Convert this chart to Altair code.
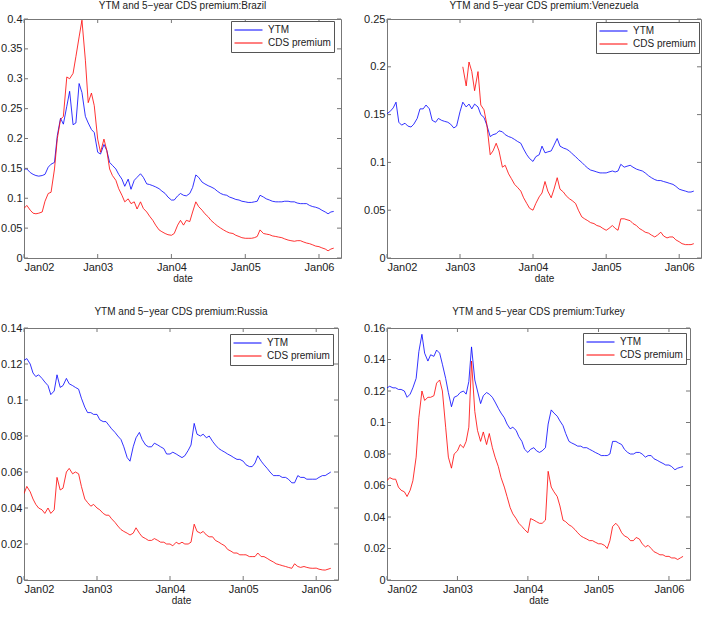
import altair as alt
import pandas as pd

FONT = "Liberation Sans"
TXT = "#222222"
AXC = "#777777"

# semi-monthly observation dates (1st and 15th), Jan 2002 .. Mar 2006
DATES = pd.date_range("2002-01-01", periods=102, freq="SMS").strftime("%Y-%m-%d").tolist()
SERIES = ["YTM", "CDS premium"]
COLORS = ["#0000ff", "#ff0000"]
X_TICK_YEARS = [2002, 2003, 2004, 2005, 2006]

BRA_TICKS = [0, 0.05, 0.1, 0.15, 0.2, 0.25, 0.3, 0.35, 0.4]
VEN_TICKS = [0, 0.05, 0.1, 0.15, 0.2, 0.25]
RUS_TICKS = [0, 0.02, 0.04, 0.06, 0.08, 0.1, 0.12, 0.14]
TUR_TICKS = [0, 0.02, 0.04, 0.06, 0.08, 0.1, 0.12, 0.14, 0.16]

BRA_YTM = [
    0.149, 0.149, 0.143, 0.140, 0.138, 0.137, 0.138, 0.140, 0.152, 0.157, 0.160, 0.205,
    0.234, 0.224, 0.254, 0.279, 0.223, 0.226, 0.292, 0.277, 0.237, 0.226, 0.215, 0.210,
    0.177, 0.174, 0.190, 0.180, 0.160, 0.155, 0.149, 0.140, 0.132, 0.120, 0.132, 0.115,
    0.130, 0.135, 0.141, 0.135, 0.124, 0.123, 0.121, 0.119, 0.116, 0.112, 0.108, 0.102,
    0.097, 0.097, 0.104, 0.108, 0.105, 0.104, 0.108, 0.118, 0.139, 0.135, 0.127, 0.124,
    0.121, 0.119, 0.116, 0.112, 0.108, 0.106, 0.105, 0.102, 0.100, 0.098, 0.097, 0.095,
    0.094, 0.093, 0.093, 0.094, 0.095, 0.105, 0.102, 0.099, 0.097, 0.095, 0.094, 0.094,
    0.094, 0.095, 0.095, 0.094, 0.094, 0.092, 0.091, 0.091, 0.091, 0.088, 0.086, 0.085,
    0.083, 0.080, 0.077, 0.074, 0.077, 0.078,
]
BRA_CDS = [
    0.083, 0.088, 0.080, 0.075, 0.074, 0.075, 0.077, 0.095, 0.108, 0.110, 0.149, 0.200,
    0.232, 0.237, 0.303, 0.300, 0.309, 0.337, 0.370, 0.398, 0.331, 0.260, 0.276, 0.255,
    0.199, 0.177, 0.199, 0.180, 0.149, 0.138, 0.130, 0.116, 0.105, 0.094, 0.099, 0.091,
    0.094, 0.082, 0.094, 0.083, 0.077, 0.070, 0.063, 0.055, 0.047, 0.044, 0.041, 0.039,
    0.038, 0.041, 0.055, 0.063, 0.055, 0.063, 0.061, 0.077, 0.094, 0.086, 0.080, 0.074,
    0.069, 0.063, 0.058, 0.054, 0.050, 0.047, 0.044, 0.042, 0.041, 0.038, 0.036, 0.034,
    0.033, 0.033, 0.033, 0.034, 0.036, 0.047, 0.041, 0.040, 0.039, 0.037, 0.036, 0.035,
    0.034, 0.032, 0.030, 0.029, 0.028, 0.029, 0.029, 0.027, 0.025, 0.024, 0.022, 0.020,
    0.019, 0.017, 0.015, 0.012, 0.015, 0.0165,
]
VEN_YTM = [
    0.151, 0.153, 0.157, 0.163, 0.142, 0.139, 0.141, 0.138, 0.137, 0.140, 0.146, 0.156,
    0.156, 0.160, 0.156, 0.144, 0.142, 0.146, 0.144, 0.143, 0.142, 0.140, 0.136, 0.138,
    0.153, 0.163, 0.158, 0.161, 0.156, 0.161, 0.158, 0.150, 0.147, 0.139, 0.127, 0.129,
    0.130, 0.133, 0.132, 0.129, 0.127, 0.126, 0.124, 0.122, 0.120, 0.114, 0.108, 0.104,
    0.101, 0.106, 0.108, 0.117, 0.110, 0.111, 0.112, 0.118, 0.125, 0.117, 0.115, 0.114,
    0.112, 0.109, 0.106, 0.103, 0.100, 0.097, 0.094, 0.092, 0.091, 0.090, 0.089, 0.089,
    0.089, 0.090, 0.091, 0.090, 0.091, 0.098, 0.095, 0.096, 0.097, 0.095, 0.093, 0.092,
    0.091, 0.089, 0.086, 0.084, 0.082, 0.081, 0.081, 0.080, 0.079, 0.078, 0.077, 0.075,
    0.072, 0.071, 0.070, 0.069, 0.069, 0.070,
]
VEN_CDS = [None] * 24 + [
    None, 0.200, 0.180, 0.205, 0.195, 0.175, 0.195, 0.160, 0.155, 0.140, 0.108, 0.112,
    0.120, 0.112, 0.095, 0.097, 0.088, 0.083, 0.077, 0.074, 0.070, 0.063, 0.057, 0.052,
    0.050, 0.057, 0.064, 0.068, 0.080, 0.070, 0.063, 0.072, 0.084, 0.072, 0.069, 0.065,
    0.062, 0.060, 0.057, 0.050, 0.043, 0.041, 0.039, 0.037, 0.036, 0.034, 0.033, 0.031,
    0.029, 0.031, 0.034, 0.031, 0.029, 0.041, 0.041, 0.040, 0.039, 0.036, 0.034, 0.031,
    0.029, 0.027, 0.026, 0.024, 0.022, 0.024, 0.027, 0.023, 0.021, 0.022, 0.022, 0.019,
    0.017, 0.015, 0.014, 0.014, 0.014, 0.015,
]
RUS_YTM = [
    0.122, 0.123, 0.120, 0.115, 0.113, 0.114, 0.112, 0.110, 0.108, 0.103, 0.105, 0.114,
    0.107, 0.108, 0.112, 0.109, 0.108, 0.107, 0.106, 0.101, 0.096, 0.093, 0.093, 0.092,
    0.092, 0.089, 0.088, 0.088, 0.086, 0.084, 0.082, 0.080, 0.078, 0.074, 0.068, 0.066,
    0.074, 0.079, 0.082, 0.078, 0.075, 0.074, 0.074, 0.076, 0.075, 0.074, 0.073, 0.070,
    0.070, 0.071, 0.070, 0.069, 0.068, 0.069, 0.072, 0.075, 0.087, 0.081, 0.080, 0.081,
    0.079, 0.080, 0.077, 0.075, 0.073, 0.072, 0.071, 0.070, 0.069, 0.068, 0.067, 0.067,
    0.066, 0.064, 0.063, 0.063, 0.065, 0.069, 0.066, 0.064, 0.062, 0.060, 0.058, 0.058,
    0.058, 0.057, 0.057, 0.056, 0.054, 0.054, 0.058, 0.057, 0.057, 0.056, 0.056, 0.056,
    0.056, 0.057, 0.058, 0.058, 0.059, 0.060,
]
RUS_CDS = [
    0.048, 0.052, 0.049, 0.045, 0.042, 0.040, 0.039, 0.037, 0.040, 0.037, 0.039, 0.057,
    0.050, 0.051, 0.060, 0.062, 0.059, 0.060, 0.059, 0.052, 0.045, 0.043, 0.041, 0.042,
    0.040, 0.039, 0.037, 0.036, 0.036, 0.034, 0.032, 0.030, 0.028, 0.027, 0.026, 0.025,
    0.026, 0.029, 0.026, 0.024, 0.023, 0.022, 0.022, 0.023, 0.022, 0.021, 0.021, 0.020,
    0.020, 0.019, 0.021, 0.020, 0.021, 0.020, 0.020, 0.021, 0.031, 0.027, 0.026, 0.027,
    0.025, 0.024, 0.024, 0.022, 0.021, 0.020, 0.019, 0.017, 0.016, 0.015, 0.015, 0.014,
    0.014, 0.014, 0.013, 0.013, 0.013, 0.015, 0.013, 0.013, 0.012, 0.011, 0.010, 0.009,
    0.0085, 0.008, 0.0075, 0.007, 0.0065, 0.009, 0.0075, 0.007, 0.0075, 0.007, 0.0066, 0.0065,
    0.0066, 0.006, 0.0056, 0.0055, 0.006, 0.0065,
]
TUR_YTM = [
    0.122, 0.123, 0.122, 0.122, 0.121, 0.121, 0.120, 0.116, 0.118, 0.122, 0.128, 0.145,
    0.156, 0.144, 0.139, 0.143, 0.142, 0.146, 0.144, 0.137, 0.128, 0.119, 0.110, 0.116,
    0.117, 0.119, 0.120, 0.118, 0.126, 0.148, 0.127, 0.120, 0.112, 0.117, 0.119, 0.118,
    0.116, 0.113, 0.109, 0.106, 0.103, 0.099, 0.096, 0.097, 0.095, 0.091, 0.088, 0.083,
    0.081, 0.083, 0.084, 0.082, 0.081, 0.082, 0.084, 0.099, 0.108, 0.106, 0.104, 0.101,
    0.098, 0.093, 0.088, 0.087, 0.086, 0.085, 0.085, 0.084, 0.084, 0.083, 0.082, 0.081,
    0.080, 0.079, 0.079, 0.079, 0.080, 0.088, 0.088, 0.087, 0.086, 0.083, 0.081, 0.080,
    0.080, 0.081, 0.081, 0.080, 0.078, 0.079, 0.079, 0.077, 0.076, 0.075, 0.074, 0.073,
    0.073, 0.072, 0.070, 0.071, 0.0715, 0.072,
]
TUR_CDS = [
    0.063, 0.065, 0.064, 0.064, 0.059, 0.057, 0.056, 0.053, 0.057, 0.063, 0.078, 0.103,
    0.120, 0.114, 0.116, 0.116, 0.117, 0.125, 0.127, 0.120, 0.097, 0.078, 0.071, 0.080,
    0.082, 0.086, 0.084, 0.088, 0.097, 0.139, 0.107, 0.095, 0.088, 0.094, 0.086, 0.093,
    0.084, 0.078, 0.072, 0.065, 0.059, 0.053, 0.046, 0.042, 0.039, 0.036, 0.034, 0.032,
    0.030, 0.039, 0.038, 0.037, 0.036, 0.036, 0.038, 0.069, 0.059, 0.056, 0.053, 0.047,
    0.038, 0.037, 0.035, 0.034, 0.032, 0.030, 0.028, 0.027, 0.026, 0.025, 0.025, 0.024,
    0.023, 0.023, 0.022, 0.020, 0.025, 0.034, 0.036, 0.034, 0.030, 0.028, 0.027, 0.025,
    0.025, 0.027, 0.026, 0.023, 0.021, 0.022, 0.020, 0.018, 0.017, 0.016, 0.016, 0.015,
    0.015, 0.014, 0.014, 0.013, 0.014, 0.015,
]

for arr in (BRA_YTM, BRA_CDS, VEN_YTM, VEN_CDS, RUS_YTM, RUS_CDS, TUR_YTM, TUR_CDS):
    if len(arr) != len(DATES):
        raise ValueError(f"length {len(arr)} != {len(DATES)}")

X_DOMAIN = [alt.DateTime(year=2002, month=1, date=1, utc=True),
            alt.DateTime(year=2006, month=4, date=20, utc=True)]
X_VALUES = [alt.DateTime(year=y, month=1, date=1, utc=True) for y in X_TICK_YEARS]
TICK_LEN = 4


def panel(country, ytm, cds, y_ticks, w, h, lx, ly, title_offset):
    rows = []
    for s, vals in ((SERIES[0], ytm), (SERIES[1], cds)):
        for d, v in zip(DATES, vals):
            if v is not None:
                rows.append({"date": d, "value": v, "series": s})
    df = pd.DataFrame(rows)
    xt = pd.DataFrame({"date": [f"{y}-01-01" for y in X_TICK_YEARS]})
    yt = pd.DataFrame({"value": y_ticks})
    xscale = alt.Scale(type="utc", domain=X_DOMAIN)
    yscale = alt.Scale(domain=[0, y_ticks[-1]], nice=False, zero=True)
    x_axis = alt.Axis(values=X_VALUES, format="%b%y", title="date", ticks=False,
                      domain=False, grid=False, labelPadding=3, titlePadding=1)
    y_axis = alt.Axis(values=y_ticks, format=".2~f", title=None, ticks=False,
                      domain=False, grid=False, labelPadding=2)

    lines = alt.Chart(df).mark_line(strokeWidth=0.8, clip=True).encode(
        x=alt.X("date:T", scale=xscale, axis=x_axis),
        y=alt.Y("value:Q", scale=yscale, axis=y_axis),
        color=alt.Color("series:N", scale=alt.Scale(domain=SERIES, range=COLORS),
                        legend=alt.Legend(title=None, orient="none", legendX=lx, legendY=ly,
                                          symbolType="stroke", symbolSize=784,
                                          symbolStrokeWidth=1, clipHeight=12,
                                          strokeColor="#555555", fillColor="white",
                                          padding=3, rowPadding=1, labelOffset=5)),
    )
    # inward MATLAB-style ticks on all four sides
    xtick_b = alt.Chart(xt).mark_rule(color=AXC, strokeWidth=1).encode(
        x=alt.X("date:T", scale=xscale, axis=x_axis),
        y=alt.value(h), y2=alt.value(h - TICK_LEN))
    xtick_t = alt.Chart(xt).mark_rule(color=AXC, strokeWidth=1).encode(
        x=alt.X("date:T", scale=xscale, axis=x_axis),
        y=alt.value(0), y2=alt.value(TICK_LEN))
    ytick_l = alt.Chart(yt).mark_rule(color=AXC, strokeWidth=1).encode(
        y=alt.Y("value:Q", scale=yscale, axis=y_axis),
        x=alt.value(0), x2=alt.value(TICK_LEN))
    ytick_r = alt.Chart(yt).mark_rule(color=AXC, strokeWidth=1).encode(
        y=alt.Y("value:Q", scale=yscale, axis=y_axis),
        x=alt.value(w - TICK_LEN), x2=alt.value(w))

    return alt.layer(lines, xtick_b, xtick_t, ytick_l, ytick_r).properties(
        width=w, height=h,
        title=alt.TitleParams(f"YTM and 5\u2212year CDS premium:{country}", fontSize=10,
                              fontWeight="normal", font=FONT, color=TXT, offset=title_offset,
                              anchor="middle"),
    )


tl = panel("Brazil", BRA_YTM, BRA_CDS, BRA_TICKS, 317, 239, 207, 2, 2)
tr = panel("Venezuela", VEN_YTM, VEN_CDS, VEN_TICKS, 314, 239, 209, 3, 2)
bl = panel("Russia", RUS_YTM, RUS_CDS, RUS_TICKS, 314, 252, 206, 6, 5)
br = panel("Turkey", TUR_YTM, TUR_CDS, TUR_TICKS, 303, 252, 196, 5, 5)

chart = alt.concat(
    tl, tr, bl, br, columns=2, spacing={"row": 70, "column": 46},
    bounds="flush", align="none",
).resolve_scale(
    color="independent"
).resolve_legend(
    color="independent"
).properties(
    padding={"left": 0, "top": 0, "right": 3, "bottom": 0},
    background="white",
).configure_view(
    stroke=AXC, strokeWidth=1
).configure_axis(
    labelFont=FONT, labelFontSize=11, labelColor=TXT,
    titleFont=FONT, titleFontSize=10, titleFontWeight="normal", titleColor=TXT,
).configure_legend(
    labelFont=FONT, labelFontSize=10, labelColor=TXT,
)

chart.save("out.html", embed_options={"renderer": "svg", "actions": False})
